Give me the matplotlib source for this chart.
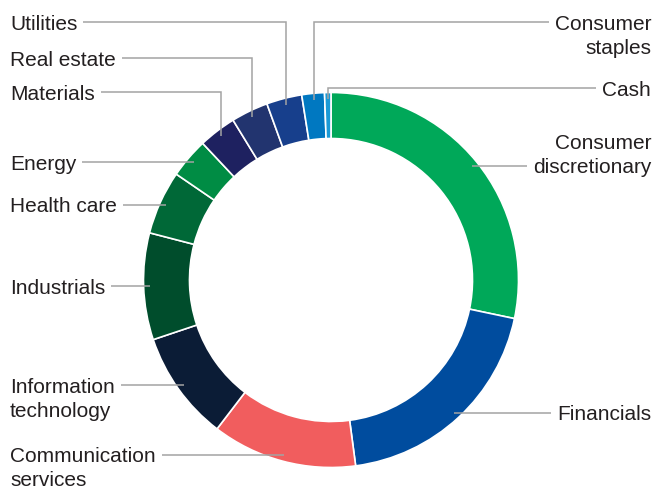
import numpy as np
import matplotlib
matplotlib.use("Agg")
import matplotlib.pyplot as plt

# Sector weights (%), clockwise from 12 o'clock
sectors = ["Consumer discretionary", "Financials", "Communication services",
           "Information technology", "Industrials", "Health care", "Energy",
           "Materials", "Real estate", "Utilities", "Consumer staples", "Cash"]
weights = [28.3, 19.6, 12.5, 9.45, 9.2, 5.5, 3.45, 3.25, 3.2, 3.05, 1.95, 0.55]
colors = ["#00a859", "#004c9e", "#f15d5e", "#0b1c36", "#004d2c", "#006837",
          "#008c44", "#1e2160", "#22346f", "#173f8c", "#0078c1", "#1a9ad6"]

# Label text lines for each sector
label_lines = {
    "Consumer discretionary": ["Consumer", "discretionary"],
    "Financials": ["Financials"],
    "Communication services": ["Communication", "services"],
    "Information technology": ["Information", "technology"],
    "Industrials": ["Industrials"],
    "Health care": ["Health care"],
    "Energy": ["Energy"],
    "Materials": ["Materials"],
    "Real estate": ["Real estate"],
    "Utilities": ["Utilities"],
    "Consumer staples": ["Consumer", "staples"],
    "Cash": ["Cash"],
}

W, H = 655, 491
CX, CY, R = 331, 280, 187.5
RING = 46
ANCHOR_R = 181
LEFT_X, RIGHT_X = 10, 651
LINE_GAP = 24
TEXT_COLOR = "#231f20"
LEADER = "#a3a3a3"

# side, which text line the leader attaches to, and fixed label row (None = follow wedge)
layout = {
    "Consumer discretionary": ("right", 1, None),
    "Financials": ("right", 0, None),
    "Communication services": ("left", 0, None),
    "Information technology": ("left", 0, None),
    "Industrials": ("left", 0, None),
    "Health care": ("left", 0, None),
    "Energy": ("left", 0, None),
    "Materials": ("left", 0, 92),
    "Real estate": ("left", 0, 58),
    "Utilities": ("left", 0, 22),
    "Consumer staples": ("right", 0, 22),
    "Cash": ("right", 0, 88),
}

plt.rcParams["font.family"] = ["Liberation Sans", "DejaVu Sans"]
fig = plt.figure(figsize=(W / 100, H / 100), dpi=100)
ax = fig.add_axes([0, 0, 1, 1])
ax.set_xlim(0, W)
ax.set_ylim(0, H)
ax.set_aspect("equal")
ax.axis("off")


def fy(y):
    return H - y


wedges, _ = ax.pie(weights, colors=colors, startangle=90, counterclock=False,
                   radius=R, center=(CX, fy(CY)), frame=True,
                   wedgeprops=dict(width=RING, edgecolor="white", linewidth=1.2))
ax.set_xlim(0, W)
ax.set_ylim(0, H)
ax.axis("off")

fig.canvas.draw()
renderer = fig.canvas.get_renderer()
inv = ax.transData.inverted()

for w, name in zip(wedges, sectors):
    mid = np.deg2rad((w.theta1 + w.theta2) / 2)
    axp = CX + ANCHOR_R * np.cos(mid)
    ayp = fy(CY) + ANCHOR_R * np.sin(mid)
    side, attach, row = layout[name]
    lines = label_lines[name]
    line_y = ayp if row is None else fy(row)
    first_y = line_y + attach * LINE_GAP
    ha = "left" if side == "left" else "right"
    x = LEFT_X if side == "left" else RIGHT_X
    texts = []
    for i, s in enumerate(lines):
        t = ax.text(x, first_y - i * LINE_GAP - 7.5, s, ha=ha, va="baseline",
                    fontsize=15, color=TEXT_COLOR)
        texts.append(t)
    bb = texts[attach].get_window_extent(renderer)
    (x0, _), (x1, _) = inv.transform([(bb.x0, bb.y0), (bb.x1, bb.y1)])
    start = x1 + 6 if side == "left" else x0 - 6
    if row is None:
        ax.plot([start, axp], [ayp, ayp], color=LEADER, lw=1.1,
                solid_capstyle="butt")
    else:
        ax.plot([start, axp, axp], [line_y, line_y, ayp], color=LEADER, lw=1.1,
                solid_capstyle="butt", solid_joinstyle="miter")

fig.savefig("out.png", dpi=100, facecolor="white")
